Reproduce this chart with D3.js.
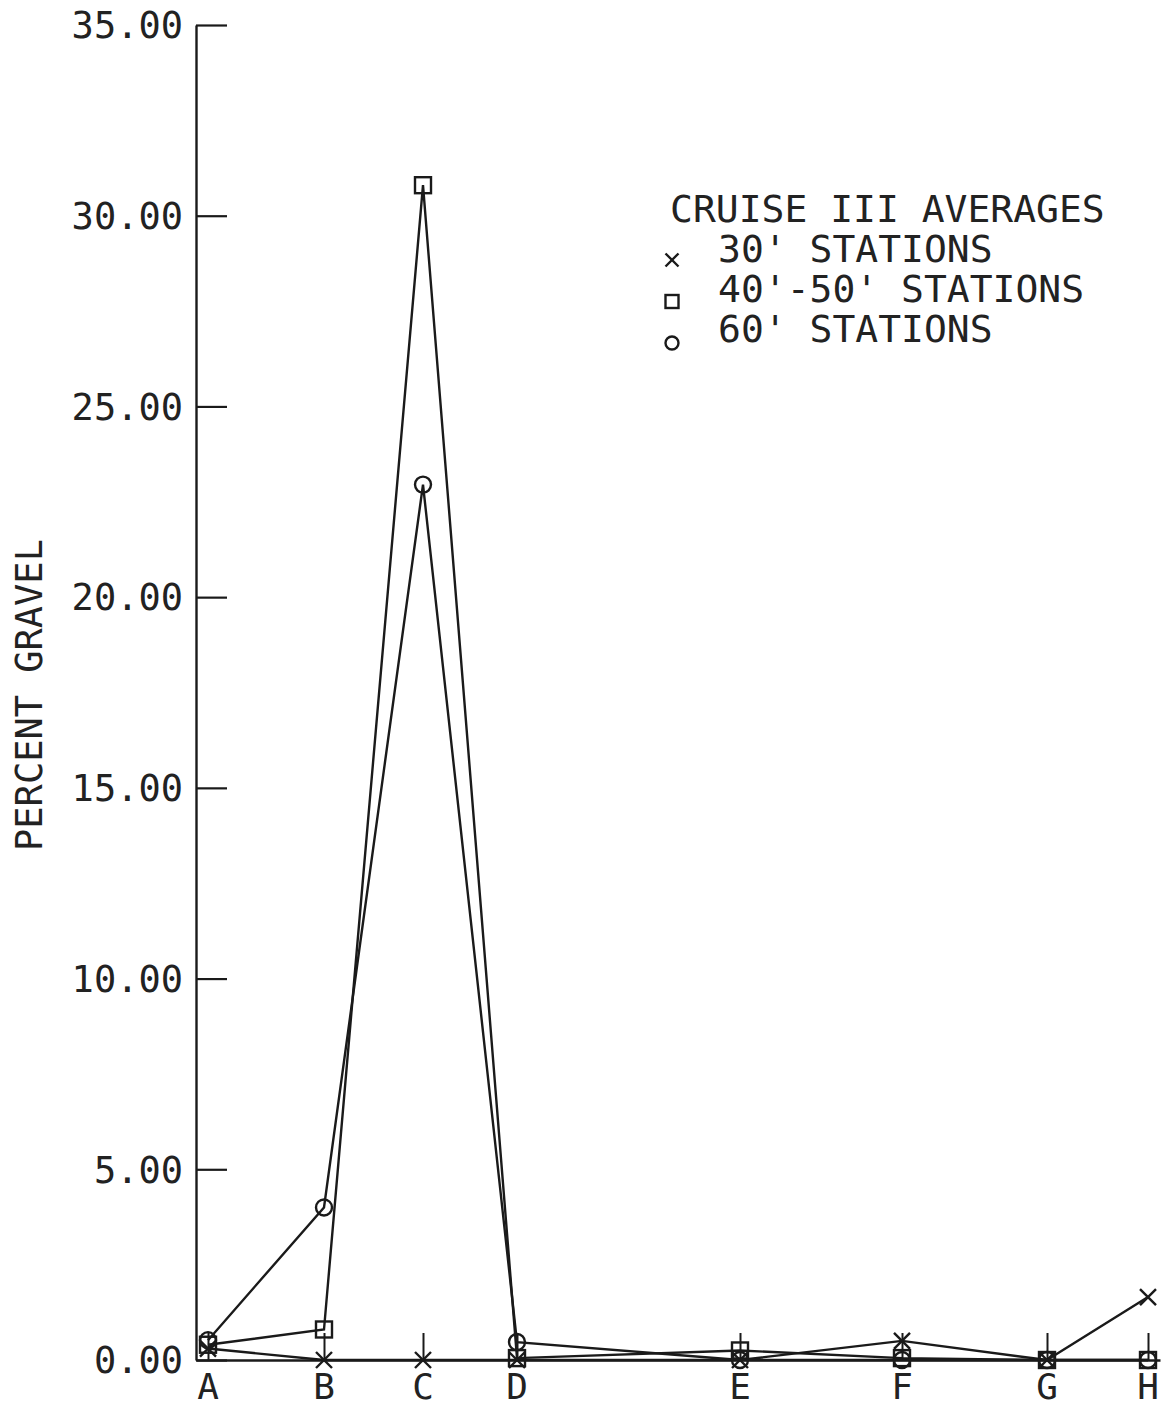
<!DOCTYPE html>
<html>
<head>
<meta charset="utf-8">
<script src="https://cdn.jsdelivr.net/npm/d3@7"></script>
<style>
  body { margin: 0; background: #fff; }
  text { font-family: "DejaVu Sans Mono", monospace; fill: #222; }
</style>
</head>
<body>
<svg id="chart"></svg>
<script>
// stations along the transect and their relative spacing
const stations = ["A", "B", "C", "D", "E", "F", "G", "H"];
const stationPos = [0.12, 1.28, 2.27, 3.21, 5.44, 7.06, 8.51, 9.52];

// percent gravel, cruise III averages
const thirtyFt = [0.3, 0.0, 0.0, 0.0, 0.0, 0.5, 0.0, 1.65];
const fortyFiftyFt = [0.4, 0.8, 30.8, 0.05, 0.25, 0.05, 0.0, 0.0];
const sixtyFt = [0.52, 4.0, 22.95, 0.47, 0.0, 0.0, 0.0, 0.0];

const yTicks = [0, 5, 10, 15, 20, 25, 30, 35];

const width = 1171;
const height = 1414;
const margin = { top: 25, right: 11, bottom: 54, left: 196 };

const svg = d3.select("#chart").attr("width", width).attr("height", height);

const x = d3.scaleLinear().domain([0, 9.64]).range([margin.left, width - margin.right]);
const y = d3.scaleLinear().domain([0, 35]).range([height - margin.bottom, margin.top]);

const ink = "#1a1a1a";

// y axis, ticks pointing into the plot
const yAxis = svg.append("g")
  .attr("transform", `translate(${margin.left},0)`)
  .call(d3.axisRight(y).tickValues(yTicks).tickSize(31).tickSizeOuter(0).tickFormat(() => ""));
yAxis.selectAll("line").attr("stroke", ink).attr("stroke-width", 2.2);
yAxis.select(".domain").attr("stroke", ink).attr("stroke-width", 2.4);

svg.append("g")
  .selectAll("text")
  .data(yTicks)
  .enter()
  .append("text")
  .attr("x", margin.left - 13)
  .attr("y", (d) => y(d))
  .attr("dy", "0.36em")
  .attr("text-anchor", "end")
  .style("font-size", "37px")
  .text((d) => d3.format(".2f")(d));

// x axis, small ticks pointing up
const xAxis = svg.append("g")
  .attr("transform", `translate(0,${y(0)})`)
  .call(d3.axisTop(x).tickValues(stationPos).tickSize(27).tickSizeOuter(0).tickFormat(() => ""));
xAxis.selectAll("line").attr("stroke", ink).attr("stroke-width", 2);
xAxis.select(".domain").attr("stroke", ink).attr("stroke-width", 2.6);

svg.append("g")
  .selectAll("text")
  .data(stations)
  .enter()
  .append("text")
  .attr("x", (d, i) => x(stationPos[i]))
  .attr("y", y(0) + 39)
  .attr("text-anchor", "middle")
  .style("font-size", "36px")
  .text((d) => d);

// axis title
svg.append("text")
  .attr("transform", `translate(42,695) rotate(-90)`)
  .attr("text-anchor", "middle")
  .style("font-size", "37px")
  .text("PERCENT GRAVEL");

// series
const series = [
  { name: "30' STATIONS", values: thirtyFt, symbol: "x" },
  { name: "40'-50' STATIONS", values: fortyFiftyFt, symbol: "square" },
  { name: "60' STATIONS", values: sixtyFt, symbol: "circle" },
];

const line = d3.line()
  .x((d, i) => x(stationPos[i]))
  .y((d) => y(d));

function drawSymbol(g, type, cx, cy, s) {
  if (type === "x") {
    g.append("path")
      .attr("d", `M${cx - s},${cy - s}L${cx + s},${cy + s}M${cx - s},${cy + s}L${cx + s},${cy - s}`)
      .attr("stroke", ink).attr("stroke-width", 2.4).attr("fill", "none");
  } else if (type === "square") {
    g.append("rect")
      .attr("x", cx - s).attr("y", cy - s)
      .attr("width", 2 * s).attr("height", 2 * s)
      .attr("stroke", ink).attr("stroke-width", 2.4).attr("fill", "none");
  } else {
    g.append("circle")
      .attr("cx", cx).attr("cy", cy).attr("r", s)
      .attr("stroke", ink).attr("stroke-width", 2.4).attr("fill", "none");
  }
}

series.forEach((s) => {
  svg.append("path")
    .datum(s.values)
    .attr("d", line)
    .attr("fill", "none")
    .attr("stroke", ink)
    .attr("stroke-width", 2.4);

  const g = svg.append("g");
  s.values.forEach((v, i) => drawSymbol(g, s.symbol, x(stationPos[i]), y(v), 8));
});

// legend
const legend = svg.append("g");
legend.append("text")
  .attr("x", 670)
  .attr("y", 222)
  .style("font-size", "38px")
  .text("CRUISE III AVERAGES");

series.forEach((s, i) => {
  const by = 262 + i * 40;
  legend.append("text")
    .attr("x", 718)
    .attr("y", by)
    .style("font-size", "38px")
    .text(s.name);
  drawSymbol(legend, s.symbol, 672, by - 2 + i * 1.5, 6.5);
});
</script>
</body>
</html>
